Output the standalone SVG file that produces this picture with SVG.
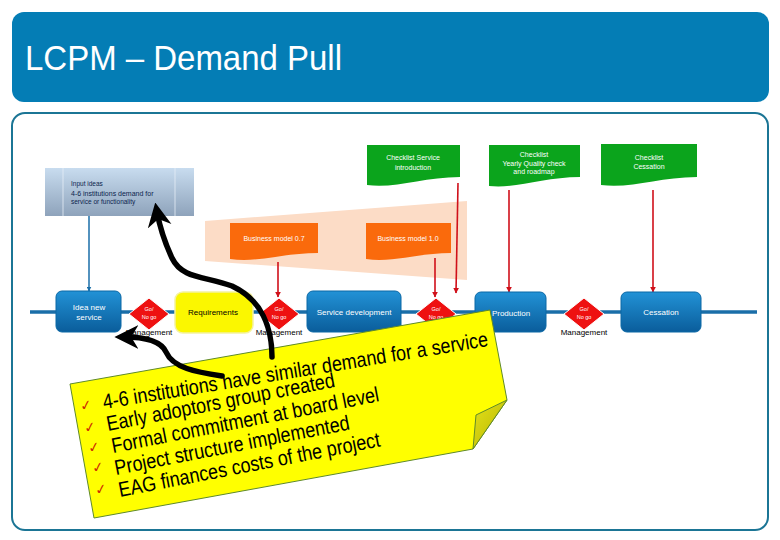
<svg xmlns="http://www.w3.org/2000/svg" width="780" height="540" viewBox="0 0 780 540">
<defs>
<linearGradient id="gBlue" x1="0" y1="0" x2="0" y2="1">
<stop offset="0" stop-color="#2292d6"/><stop offset="1" stop-color="#0a5d9b"/>
</linearGradient>
<linearGradient id="gInput" x1="0" y1="0" x2="0" y2="1">
<stop offset="0" stop-color="#c8dcef"/><stop offset="1" stop-color="#8ea3bb"/>
</linearGradient>
<linearGradient id="gFold" x1="0" y1="0" x2="1" y2="1">
<stop offset="0" stop-color="#e4e21a"/><stop offset="1" stop-color="#b7b400"/>
</linearGradient>
<marker id="mRed" viewBox="0 0 10 10" refX="9" refY="5" markerWidth="6" markerHeight="6" markerUnits="userSpaceOnUse" orient="auto">
<path d="M0,0 L10,5 L0,10 z" fill="#d0101a"/>
</marker>
<marker id="mBlue" viewBox="0 0 10 10" refX="9" refY="5" markerWidth="5" markerHeight="5" markerUnits="userSpaceOnUse" orient="auto">
<path d="M0,0 L10,5 L0,10 z" fill="#1a6ea8"/>
</marker>
<marker id="mBlack" viewBox="0 0 10 10" refX="6" refY="5" markerWidth="24" markerHeight="26" markerUnits="userSpaceOnUse" orient="auto">
<path d="M0,0 L10,5 L0,10 L3,5 z" fill="#000"/>
</marker>
<style>
.t{font-family:"Liberation Sans",Arial,sans-serif}
.wn{fill:#fff;font-size:8px;text-anchor:middle}
.node{fill:url(#gBlue);stroke:#0b68a6;stroke-width:1}
.dia{fill:#ee1111;stroke:#fff;stroke-width:1}
.go{fill:#fff;font-size:5.5px;text-anchor:middle}
.mg{fill:#000;font-size:8px;text-anchor:middle}
.green{fill:#0ba41c}
.orange{fill:#fa6a0c}
.gl{fill:#fff;font-size:7px;text-anchor:middle}
.red{stroke:#d0101a;stroke-width:1.6;fill:none;marker-end:url(#mRed)}
.blk{stroke:#000;stroke-width:5.5;fill:none;stroke-linecap:round;marker-end:url(#mBlack)}
.st{fill:#000;font-size:21px}
.ck{fill:#cc2a00;font-size:14px;font-family:"DejaVu Sans",sans-serif}
</style>
</defs>

<g id="title">
<rect x="12" y="12" width="757" height="90" rx="12" fill="#047db5"/>
<text class="t" x="25" y="70" font-size="35" fill="#fff" textLength="317" lengthAdjust="spacingAndGlyphs">LCPM – Demand Pull</text>
</g>
<g id="frame">
<rect x="12" y="113" width="756" height="417" rx="13" fill="#fff" stroke="#1b7595" stroke-width="2"/>
</g>

<g id="phase">
<polygon points="205,221 467,201 467,280 205,261" fill="#fcdcc6"/>
</g>

<g id="input">
<rect x="45" y="168" width="149" height="48" fill="url(#gInput)"/>
<line x1="63" y1="168" x2="63" y2="216" stroke="#e6eef6" stroke-width="0.8"/>
<line x1="175" y1="168" x2="175" y2="216" stroke="#e6eef6" stroke-width="0.8"/>
<text class="t" x="71" y="186" font-size="6.5" fill="#0b1f4d">Input ideas</text>
<text class="t" x="71" y="195.5" font-size="7" fill="#0b1f4d">4-6 institutions demand for</text>
<text class="t" x="71" y="204" font-size="6.5" fill="#0b1f4d">service or functionality</text>
</g>

<g id="cl1">
<path class="green" d="M367,145 H460 V177 C423,177 395,189 367,185 Z"/>
<text class="t gl" x="413" y="160">Checklist Service</text>
<text class="t gl" x="413" y="169.5">introduction</text>
</g>
<g id="cl2">
<path class="green" d="M489,145 H580 V177 C544,177 517,189 489,186 Z"/>
<text class="t gl" x="534" y="156.5">Checklist</text>
<text class="t gl" x="534" y="165.5">Yearly Quality check</text>
<text class="t gl" x="534" y="174">and roadmap</text>
</g>
<g id="cl3">
<path class="green" d="M601,144 H697 V177 C659,177 631,189 601,185 Z"/>
<text class="t gl" x="649" y="159.5">Checklist</text>
<text class="t gl" x="649" y="168.5">Cessation</text>
</g>

<g id="bm07">
<path class="orange" d="M230,223 H318 V253 C283,253 258,263 230,259 Z"/>
<text class="t gl" x="274" y="241">Business model 0.7</text>
</g>
<g id="bm10">
<path class="orange" d="M366,223 H451 V253 C418,253 393,263 366,259 Z"/>
<text class="t gl" x="408" y="241">Business model 1.0</text>
</g>

<g id="connectors">
<line x1="30" y1="312" x2="757" y2="312" stroke="#1a6ea8" stroke-width="3.5"/>
<line x1="89" y1="216" x2="89" y2="291" stroke="#1a6ea8" stroke-width="1.5" marker-end="url(#mBlue)"/>
<line class="red" x1="458" y1="183" x2="456" y2="293"/>
<line class="red" x1="509" y1="190" x2="509" y2="292"/>
<line class="red" x1="653" y1="190" x2="653" y2="292"/>
<line class="red" x1="278" y1="262" x2="278" y2="297"/>
<line class="red" x1="435" y1="258" x2="435" y2="297"/>
</g>

<g id="idea">
<rect class="node" x="56" y="291" width="65" height="41" rx="6"/>
<text class="t wn" x="89" y="310">Idea new</text>
<text class="t wn" x="89" y="320">service</text>
</g>
<g id="gate1">
<polygon class="dia" points="149,298 169,314 149,330 129,314"/>
<text class="t go" x="149" y="311">Go/</text>
<text class="t go" x="149" y="319">No go</text>
<text class="t mg" x="149" y="335">Management</text>
</g>
<g id="req">
<rect x="175" y="292" width="78" height="41" rx="8" fill="#fbf700" stroke="#f4f2a0" stroke-width="1.5"/>
<text class="t" x="213" y="315" font-size="8" text-anchor="middle">Requirements</text>
</g>
<g id="gate2">
<polygon class="dia" points="279,298 299,314 279,330 259,314"/>
<text class="t go" x="279" y="311">Go/</text>
<text class="t go" x="279" y="319">No go</text>
<text class="t mg" x="279" y="335">Management</text>
</g>
<g id="dev">
<rect class="node" x="307" y="291" width="94" height="41" rx="6"/>
<text class="t wn" x="354" y="315">Service development</text>
</g>
<g id="gate3">
<polygon class="dia" points="436,298 456,314 436,330 416,314"/>
<text class="t go" x="436" y="311">Go/</text>
<text class="t go" x="436" y="319">No go</text>
</g>
<g id="prod">
<rect class="node" x="475" y="292" width="71" height="40" rx="6"/>
<text class="t wn" x="511" y="316">Production</text>
</g>
<g id="gate4">
<polygon class="dia" points="584,298 604,314 584,330 564,314"/>
<text class="t go" x="584" y="311">Go/</text>
<text class="t go" x="584" y="319">No go</text>
<text class="t mg" x="584" y="335">Management</text>
</g>
<g id="cess">
<rect class="node" x="621" y="292" width="80" height="40" rx="6"/>
<text class="t wn" x="661" y="315">Cessation</text>
</g>

<g id="note">
<polygon points="70,384 490,310 507,400 473,449 94,518" fill="#ffff00" stroke="#5f8a2a" stroke-width="1"/>
<polygon points="507,400 476,415 473,449" fill="url(#gFold)" stroke="#5f8a2a" stroke-width="1"/>
<text class="t st" transform="translate(104,409) rotate(-9.3)" textLength="390" lengthAdjust="spacingAndGlyphs">4-6 institutions have similar demand for a service</text>
<text class="t st" transform="translate(108,431) rotate(-11)" textLength="232" lengthAdjust="spacingAndGlyphs">Early adoptors group created</text>
<text class="t st" transform="translate(113,453) rotate(-11)" textLength="272" lengthAdjust="spacingAndGlyphs">Formal commitment at board level</text>
<text class="t st" transform="translate(116,475) rotate(-11)" textLength="239" lengthAdjust="spacingAndGlyphs">Project structure implemented</text>
<text class="t st" transform="translate(120,497) rotate(-11)" textLength="266" lengthAdjust="spacingAndGlyphs">EAG finances costs of the project</text>
<text class="ck" transform="translate(81,411) rotate(-10)">✓</text>
<text class="ck" transform="translate(85,433) rotate(-10)">✓</text>
<text class="ck" transform="translate(89,453) rotate(-10)">✓</text>
<text class="ck" transform="translate(93,473) rotate(-10)">✓</text>
<text class="ck" transform="translate(96,495) rotate(-10)">✓</text>
</g>

<g id="pull-arrows">
<path class="blk" d="M272,357 C272,328 262,300 232,286 C205,276 182,279 172,258 C165,243 160,228 157,212"/>
<path class="blk" d="M222,376 C196,372 173,368 166,352 C161,341 146,337 124,337"/>
</g>
</svg>
